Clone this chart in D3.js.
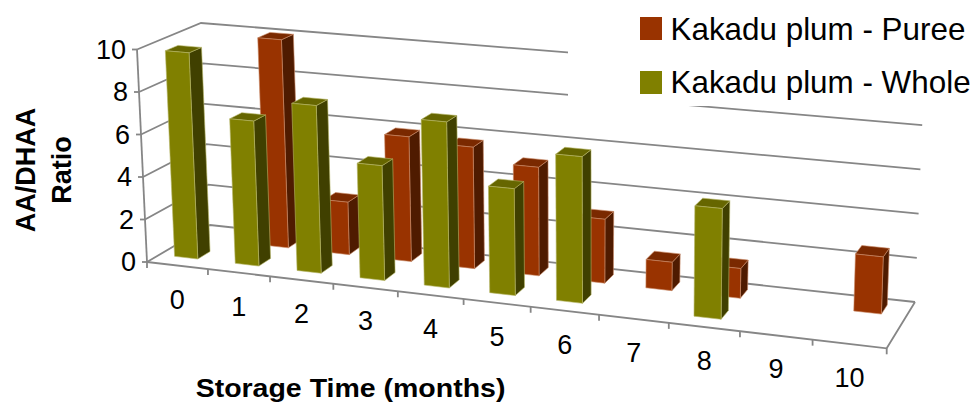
<!DOCTYPE html>
<html><head><meta charset="utf-8">
<script src="https://cdn.jsdelivr.net/npm/d3@7"></script>
<style>html,body{margin:0;padding:0;background:#fff}svg{display:block}text{font-family:"Liberation Sans",Arial,sans-serif;fill:#000}</style>
</head><body><svg id="c" width="975" height="403"></svg>
<script>
const months = [0,1,2,3,4,5,6,7,8,9,10];
const yTicks = [0,2,4,6,8,10];
const puree = [null,10.0,2.5,5.9,5.7,5.05,2.95,1.3,1.35,null,2.55];
const whole = [9.75,6.8,7.8,5.3,7.6,4.85,6.6,null,4.9,null,null];
const seriesNames = ["Kakadu plum - Puree","Kakadu plum - Whole"];

const svg = d3.select("#c");
const uScale = d3.scaleLinear().domain([0,11]).range([0,1]);
const hScale = d3.scaleLinear().domain([0,10]).range([0,1]);
const dScale = d3.scaleLinear().domain([0,1]).range([0,1]);
const r = 0.898;
const warp = t => t*r/(1-t+t*r);
// projected corners of the 3-D box
const C = {
  f0l:[147,262], f1l:[137,49.5], b0l:[210,225], b1l:[201,23],
  f0r:[886.7,348.3], f1r:[892,115], b0r:[915,302], b1r:[924,81]
};
const mix = (a,b,t)=>[a[0]+(b[0]-a[0])*t, a[1]+(b[1]-a[1])*t];
function P(u,h,d){
  const t=warp(uScale(u)), v=hScale(h), s=dScale(d);
  const f=mix(mix(C.f0l,C.f1l,v),mix(C.f0r,C.f1r,v),t);
  const b=mix(mix(C.b0l,C.b1l,v),mix(C.b0r,C.b1r,v),t);
  return mix(f,b,s);
}
const line = d3.line();
const grid="#868686";
const gG = svg.append("g").attr("fill","none").attr("stroke",grid).attr("stroke-width",1.8);
gG.selectAll("path.g").data(yTicks).join("path").attr("class","g")
  .attr("d",h=>line([P(0,h,0),P(0,h,1),P(11,h,1)]));
gG.append("path").attr("d",line([P(0,0,0),P(0,10,0)]));
gG.append("path").attr("d",line([P(0,0,0),P(11,0,0),P(11,0,1)]));
gG.selectAll("path.ty").data(yTicks).join("path").attr("class","ty")
  .attr("d",h=>{const p=P(0,h,0);return line([[p[0]-5,p[1]],p]);});
gG.selectAll("path.tx").data(d3.range(0,12)).join("path").attr("class","tx")
  .attr("d",u=>{const p=P(u,0,0);return line([p,[p[0],p[1]+6]]);});

svg.append("rect").attr("x",568).attr("y",0).attr("width",407).attr("height",106).attr("fill","#fff");

const styles=[
  {vals:puree,bw:[0.275,0.66],d:[0.68,0.88],front:"#993300",side:"#4f1b00",top:"#7a2900",edge:"#c98a66"},
  {vals:whole,bw:[0.25,0.635],d:[0.20,0.40],front:"#808000",side:"#404000",top:"#666600",edge:"#b5b566"}
];
const barsG=svg.append("g");
styles.forEach(st=>{
  const rows=months.map((m,i)=>({m,v:st.vals[i]})).filter(x=>x.v!=null);
  const g=barsG.append("g").selectAll("g").data(rows).join("g").attr("stroke",st.edge).attr("stroke-width",0.6).attr("stroke-linejoin","round");
  const [d0,d1]=st.d, bw=st.bw;
  g.append("path").attr("fill",st.side).attr("d",x=>line([P(x.m+bw[1],0,d0),P(x.m+bw[1],0,d1),P(x.m+bw[1],x.v,d1),P(x.m+bw[1],x.v,d0)])+"Z");
  g.append("path").attr("fill",st.top).attr("d",x=>line([P(x.m+bw[0],x.v,d0),P(x.m+bw[1],x.v,d0),P(x.m+bw[1],x.v,d1),P(x.m+bw[0],x.v,d1)])+"Z");
  g.append("path").attr("fill",st.front).attr("d",x=>line([P(x.m+bw[0],0,d0),P(x.m+bw[1],0,d0),P(x.m+bw[1],x.v,d0),P(x.m+bw[0],x.v,d0)])+"Z");
});

svg.append("g").selectAll("text").data(yTicks).join("text")
  .attr("text-anchor","end").attr("font-size",27).attr("dominant-baseline","central")
  .attr("x",h=>P(0,h,0)[0]-11).attr("y",h=>P(0,h,0)[1]).text(h=>h);
svg.append("g").selectAll("text").data(months).join("text")
  .attr("text-anchor","middle").attr("font-size",27).attr("dominant-baseline","central")
  .attr("x",m=>P(m+0.5,0,0)[0]).attr("y",m=>P(m+0.5,0,0)[1]+34).text(m=>m);

svg.append("text").attr("font-size",25).attr("font-weight","bold").attr("text-anchor","middle")
  .attr("transform","translate(350.5,396.5) scale(1.14,1)").text("Storage Time (months)");
svg.append("text").attr("font-size",27).attr("font-weight","bold").attr("text-anchor","middle")
  .attr("transform","translate(35,170) rotate(-90)").text("AA/DHAA");
svg.append("text").attr("font-size",27).attr("font-weight","bold").attr("text-anchor","middle")
  .attr("transform","translate(71,170) rotate(-90)").text("Ratio");

const lg=svg.append("g").selectAll("g").data(seriesNames).join("g");
lg.append("rect").attr("x",640).attr("y",(d,i)=>17+i*54).attr("width",22).attr("height",23)
  .attr("fill",(d,i)=>styles[i].front);
lg.append("text").attr("x",670.5).attr("y",(d,i)=>40+i*53).attr("font-size",31.4).text(d=>d);
</script></body></html>
